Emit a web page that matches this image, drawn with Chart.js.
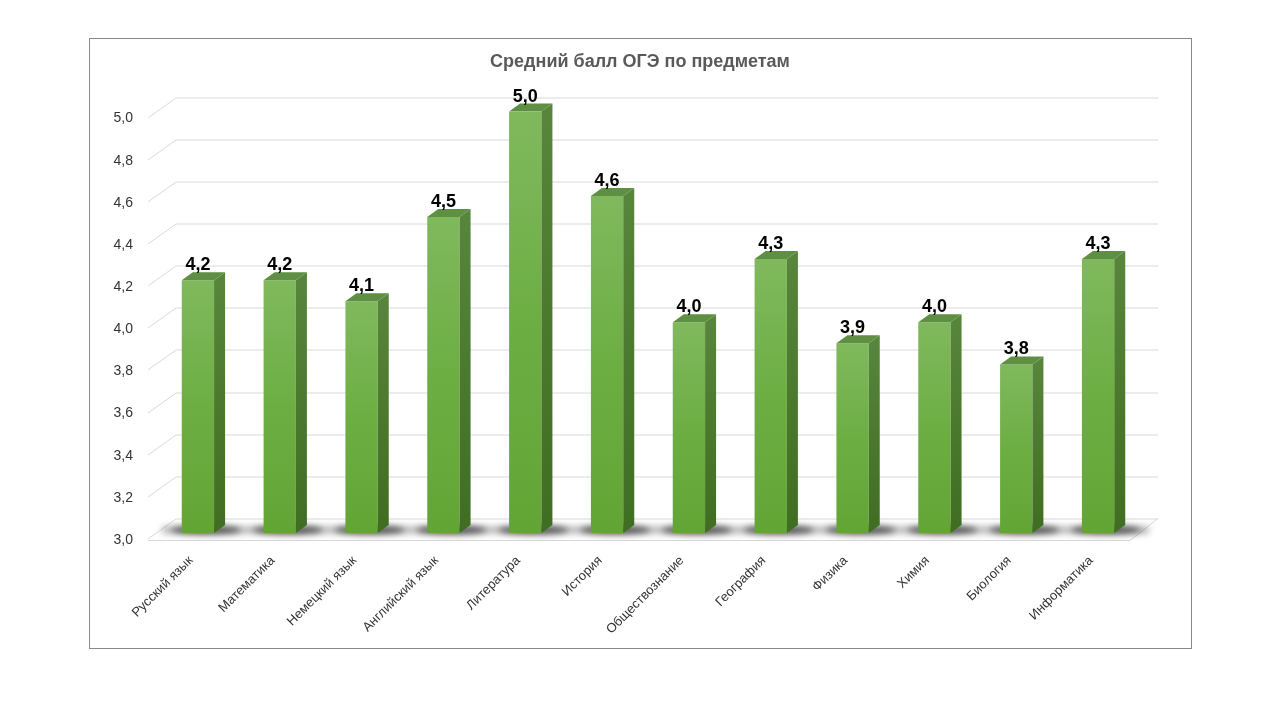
<!DOCTYPE html>
<html>
<head>
<meta charset="utf-8">
<script src="https://cdn.jsdelivr.net/npm/chart.js@4.4.1/dist/chart.umd.min.js"></script>
<style>
  html, body { margin: 0; padding: 0; background: #fff; }
  #wrap { position: relative; width: 1280px; height: 720px; }
  #frame { position: absolute; left: 89px; top: 38px; width: 1101px; height: 609px; border: 1px solid #898989; }
  canvas { position: absolute; left: 0; top: 0; }
</style>
</head>
<body>
<div id="wrap">
  <div id="frame"></div>
  <canvas id="chart" width="1280" height="720"></canvas>
</div>
<script>
// data
const subjects = [
  "Русский язык", "Математика", "Немецкий язык", "Английский язык",
  "Литература", "История", "Обществознание", "География",
  "Физика", "Химия", "Биология", "Информатика"
];
const scores = [4.2, 4.2, 4.1, 4.5, 5.0, 4.6, 4.0, 4.3, 3.9, 4.0, 3.8, 4.3];
const yMin = 3.0;
const yMax = 5.0;
const yStep = 0.2;
const title = "Средний балл ОГЭ по предметам";

const fmt = v => v.toFixed(1).replace(".", ",");

// fake 3d: back wall offset and bar side depth
const wall = { backX: 19, backY: -14.5, frontX: -9, frontY: 5.5 };
const side = { dx: 11, dy: -8 };

const wallPlugin = {
  id: "wall",
  beforeDatasetsDraw(chart) {
    const { ctx, chartArea: a, scales: { y } } = chart;
    ctx.save();
    ctx.strokeStyle = "#d9d9d9";
    ctx.lineWidth = 1;
    y.ticks.forEach(t => {
      const py = Math.round(y.getPixelForValue(t.value)) + 0.5;
      ctx.beginPath();
      ctx.moveTo(a.left + wall.frontX, py + wall.frontY);
      ctx.lineTo(a.left + wall.backX, py + wall.backY);
      ctx.lineTo(a.right + wall.backX, py + wall.backY);
      ctx.stroke();
    });
    // floor front edge
    const fy = Math.round(a.bottom + 7) + 0.5;
    ctx.beginPath();
    ctx.moveTo(a.left + wall.frontX, fy);
    ctx.lineTo(a.right + wall.frontX, fy);
    ctx.lineTo(a.right + wall.backX, a.bottom + wall.backY);
    ctx.stroke();

    // shadows under the bars
    const meta = chart.getDatasetMeta(0);
    ctx.filter = "blur(3px)";
    ctx.fillStyle = "rgba(70,70,70,0.35)";
    ctx.fillRect(a.left + 5, a.bottom - 7, a.right - a.left + 5, 8);
    ctx.fillStyle = "rgba(30,30,30,0.65)";
    meta.data.forEach(b => {
      ctx.beginPath();
      ctx.ellipse(b.x + 8, a.bottom - 3, 35, 4.5, 0, 0, Math.PI * 2);
      ctx.fill();
    });
    ctx.filter = "none";
    ctx.restore();
  },
  afterDatasetsDraw(chart) {
    const { ctx, scales: { y } } = chart;
    const meta = chart.getDatasetMeta(0);
    const base = y.getPixelForValue(yMin);
    ctx.save();
    meta.data.forEach((b, i) => {
      const x0 = b.x - b.width / 2, x1 = b.x + b.width / 2;
      const top = y.getPixelForValue(scores[i]);
      // right side face
      let g = ctx.createLinearGradient(0, top, 0, base);
      g.addColorStop(0, "#56853b");
      g.addColorStop(1, "#3f6e22");
      ctx.fillStyle = g;
      ctx.beginPath();
      ctx.moveTo(x1, top);
      ctx.lineTo(x1 + side.dx, top + side.dy);
      ctx.lineTo(x1 + side.dx, base + side.dy);
      ctx.lineTo(x1, base);
      ctx.closePath();
      ctx.fill();
      // top face
      ctx.fillStyle = "#5e8f42";
      ctx.beginPath();
      ctx.moveTo(x0, top);
      ctx.lineTo(x1, top);
      ctx.lineTo(x1 + side.dx, top + side.dy);
      ctx.lineTo(x0 + side.dx, top + side.dy);
      ctx.closePath();
      ctx.fill();
      // value label
      ctx.fillStyle = "#000";
      ctx.font = "bold 18px 'Liberation Sans', Arial, sans-serif";
      ctx.textAlign = "center";
      ctx.textBaseline = "alphabetic";
      ctx.fillText(fmt(scores[i]), b.x, top - 10);
    });
    ctx.restore();
  }
};

new Chart(document.getElementById("chart"), {
  type: "bar",
  data: {
    labels: subjects,
    datasets: [{
      data: scores,
      backgroundColor(c) {
        const chart = c.chart;
        const y = chart.scales.y;
        if (!y || !c.parsed) return "#6aab3f";
        const top = y.getPixelForValue(c.parsed.y);
        const base = y.getPixelForValue(yMin);
        if (!isFinite(top) || !isFinite(base) || top === base) return "#6aab3f";
        const g = chart.ctx.createLinearGradient(0, top, 0, base);
        g.addColorStop(0, "#80b95d");
        g.addColorStop(0.5, "#6dae43");
        g.addColorStop(1, "#62a535");
        return g;
      },
      borderWidth: 0,
      barPercentage: 0.395,
      categoryPercentage: 1
    }]
  },
  options: {
    responsive: false,
    animation: false,
    devicePixelRatio: 1,
    layout: { padding: { top: 0, left: 0, right: 0, bottom: 67 } },
    plugins: {
      legend: { display: false },
      tooltip: { enabled: false },
      title: {
        display: true,
        text: title,
        color: "#595959",
        font: { family: "'Liberation Sans', Arial, sans-serif", size: 18, weight: "bold", lineHeight: 1.2 },
        padding: { top: 51, bottom: 39 }
      }
    },
    scales: {
      x: {
        grid: { display: false },
        border: { display: false },
        ticks: {
          color: "#333333",
          font: { family: "'Liberation Sans', Arial, sans-serif", size: 13 },
          minRotation: 45,
          maxRotation: 45,
          padding: 12,
          labelOffset: -7,
          autoSkip: false
        },
        afterFit(s) { s.height = 120; }
      },
      y: {
        min: yMin,
        max: yMax,
        grid: { display: false },
        border: { display: false },
        ticks: {
          stepSize: yStep,
          color: "#333333",
          font: { family: "'Liberation Sans', Arial, sans-serif", size: 14 },
          padding: 16,
          labelOffset: 7,
          callback: v => fmt(v)
        },
        afterFit(s) { s.width = 157; }
      },
      // empty right-hand strip so the plot ends where the original does
      yRight: {
        position: "right",
        min: yMin,
        max: yMax,
        grid: { display: false },
        border: { display: false },
        ticks: { display: false },
        afterFit(s) { s.width = 141; }
      }
    }
  },
  plugins: [wallPlugin]
});
</script>
</body>
</html>
